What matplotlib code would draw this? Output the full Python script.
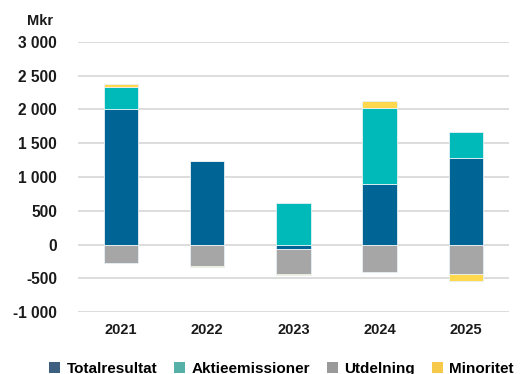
import numpy as np
import matplotlib
matplotlib.use("Agg")
import matplotlib.pyplot as plt
from matplotlib.patches import Patch
from matplotlib.ticker import FuncFormatter

# Kapitalförändring per år (Mkr)
years = ["2021", "2022", "2023", "2024", "2025"]
totalresultat = [2010, 1240, -65, 900, 1280]
aktieemissioner = [320, 0, 610, 1120, 390]
utdelning = [-270, -320, -365, -405, -435]
minoritet = [40, -15, -20, 100, -100]

series = [
    ("Totalresultat", totalresultat, "#006494", "#3d5f80"),
    ("Aktieemissioner", aktieemissioner, "#00baba", "#55b0a8"),
    ("Utdelning", utdelning, "#a6a6a6", "#9a9a9a"),
    ("Minoritet", minoritet, "#ffd84d", "#f6c94a"),
]

plt.rcParams.update({"font.family": ["Liberation Sans", "DejaVu Sans"],
                     "font.weight": "bold"})

fig = plt.figure(figsize=(5.21, 3.74), dpi=100)
ax = fig.add_axes([0.1497, 0.165, 0.827, 0.723])

x = np.arange(len(years))
pos_base = np.zeros(len(years))
neg_base = np.zeros(len(years))
for name, vals, color, _ in series:
    vals = np.array(vals, dtype=float)
    bottom = np.where(vals >= 0, pos_base, neg_base)
    ax.bar(x, vals, width=0.4, bottom=bottom, color=color,
           edgecolor="#e8f1f4", linewidth=0.6, zorder=3)
    pos_base += np.where(vals >= 0, vals, 0)
    neg_base += np.where(vals < 0, vals, 0)

ax.set_xlim(-0.5, 4.5)
ax.set_ylim(-1000, 3000)
ax.set_yticks(range(-1000, 3001, 500))
ax.yaxis.set_major_formatter(
    FuncFormatter(lambda v, _: f"{int(v):,}".replace(",", " ")))
ax.set_xticks(x)
ax.set_xticklabels(years)
ax.grid(axis="y", color="#dddddd", lw=1.4, zorder=0)
for s in ax.spines.values():
    s.set_visible(False)
ax.tick_params(axis="both", length=0, labelsize=10.5, colors="#1a1a1a")
ax.tick_params(axis="y", labelsize=11.2, pad=15)
ax.tick_params(axis="x", pad=8)

fig.text(53 / 521, 1 - 21 / 374, "Mkr", ha="right", va="center",
         fontsize=10.5, fontweight="bold", color="#1a1a1a")

handles = [Patch(facecolor=lc, edgecolor="none", label=name)
           for name, _, _, lc in series]
fig.legend(handles=handles, loc="center", bbox_to_anchor=(0.54, 1 - 369 / 374),
           ncol=4, frameon=False, fontsize=11, handlelength=0.75,
           handleheight=0.75, handletextpad=0.4, columnspacing=1.1,
           borderaxespad=0)

fig.savefig("out.png", dpi=100)
